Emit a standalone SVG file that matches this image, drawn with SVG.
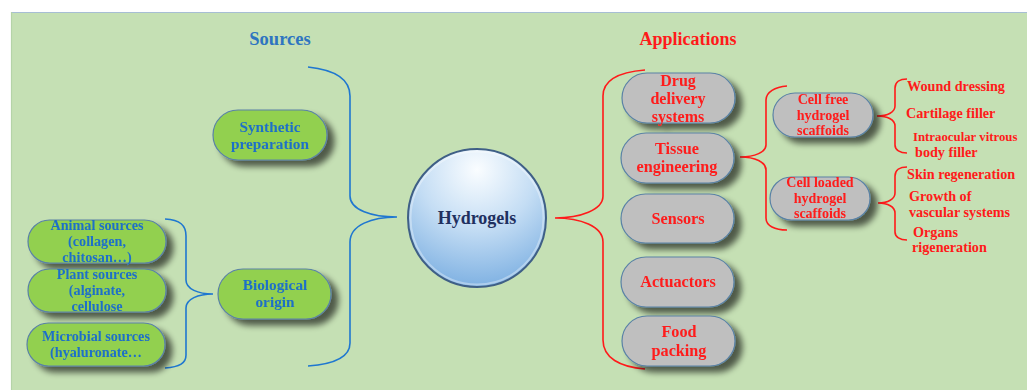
<svg xmlns="http://www.w3.org/2000/svg" width="1027" height="390" viewBox="0 0 1027 390">
<defs>
<filter id="sh" x="-20%" y="-30%" width="150%" height="180%">
<feGaussianBlur in="SourceAlpha" stdDeviation="3"/>
<feOffset dx="7" dy="6" result="b"/>
<feComponentTransfer><feFuncA type="linear" slope="0.6"/></feComponentTransfer>
<feMerge><feMergeNode/><feMergeNode in="SourceGraphic"/></feMerge>
</filter>
<radialGradient id="ball" cx="0.5" cy="0.15" r="0.95">
<stop offset="0" stop-color="#FAFDFF"/>
<stop offset="0.45" stop-color="#C4DDF4"/>
<stop offset="1" stop-color="#6FA7DE"/>
</radialGradient>
<style>
.bg{fill:#C5E0B4;}
.gn{fill:#92D050;stroke:#5A82A6;stroke-width:1.2;}
.gy{fill:#BFBFBF;stroke:#5A82A6;stroke-width:1.2;}
.bb{fill:none;stroke:#1F77D0;stroke-width:1.6;}
.rb{fill:none;stroke:#FF1A1A;stroke-width:1.6;}
text{font-family:"Liberation Serif","Times New Roman",serif;font-weight:bold;}
.bt{fill:#1F6FC8;font-size:15.3px;text-anchor:middle;}
.bs{fill:#1F6FC8;font-size:14.2px;text-anchor:middle;}
.rt{fill:#FF1A1A;font-size:16.2px;text-anchor:middle;}
.rm{fill:#FF1A1A;font-size:16px;text-anchor:middle;}
.rs{fill:#FF1A1A;font-size:14px;text-anchor:middle;}
.rl{fill:#FF1A1A;font-size:14.2px;}
</style>
</defs>
<rect x="0" y="0" width="1027" height="390" fill="#FFFFFF"/>
<rect class="bg" x="11" y="12" width="1020" height="382"/>
<line x1="11" y1="12.5" x2="1027" y2="12.5" stroke="#A7BED4" stroke-width="1.2"/>
<line x1="11.5" y1="12" x2="11.5" y2="390" stroke="#B5D3A8" stroke-width="1.2"/>

<text x="280" y="45" style="fill:#2E75C0;font-size:18.5px;text-anchor:middle;">Sources</text>
<text x="688" y="45" style="fill:#FF1A1A;font-size:18px;text-anchor:middle;">Applications</text>

<g id="connectors">
<path class="bb" d="M308,67 C336,70 350,80 350,96 L350,196 C350,210 372,217 397,217 C372,217 350,225 350,242 L350,343 C350,357 336,364 308,366"/>
<path class="bb" d="M165,219 C180,220 186,225 186,236 L186,280 C186,289 198,294 213,294 C198,294 186,299 186,308 L186,355 C186,363 180,367 165,368"/>
<path class="rb" d="M645,70 C620,72 603,80 603,96 L603,196 C603,210 580,218 555,218 C580,218 603,226 603,242 L603,340 C603,358 620,367 645,369"/>
<path class="rb" d="M787,86 C775,87 766,92 766,100 L766,145 C766,152 755,157 740,157 C755,157 766,162 766,170 L766,218 C766,226 775,230 787,230"/>
<path class="rb" d="M907,79 C900,79 895,82 895,88 L895,106 C895,112 888,116 877,116 C888,116 895,120 895,126 L895,145 C895,150 900,153 907,153"/>
<path class="rb" d="M907,167 C900,167 895,170 895,176 L895,193 C895,199 888,203 878,203 C888,203 895,207 895,213 L895,232 C895,237 900,240 907,240"/>
</g>

<g id="hydrogels">
<circle cx="477" cy="218" r="69" fill="url(#ball)" stroke="#3F5F86" stroke-width="2"/>
<circle cx="477" cy="218" r="66.5" fill="none" stroke="#FFFFFF" stroke-opacity="0.35" stroke-width="2"/>
<text x="477" y="224" style="fill:#1F3060;font-size:18px;text-anchor:middle;">Hydrogels</text>
</g>

<g id="synthetic" filter="url(#sh)">
<rect class="gn" x="213" y="110" width="114" height="50" rx="25"/>
<text class="bt" x="270" y="132">Synthetic</text>
<text class="bt" x="270" y="149">preparation</text>
</g>
<g id="biological" filter="url(#sh)">
<rect class="gn" x="218" y="269" width="113" height="50" rx="25"/>
<text class="bt" x="275" y="290">Biological</text>
<text class="bt" x="275" y="307">origin</text>
</g>
<g id="animal" filter="url(#sh)">
<rect class="gn" x="28" y="220" width="138" height="43" rx="21.5"/>
<text class="bs" x="97" y="230">Animal sources</text>
<text class="bs" x="97" y="246">(collagen,</text>
<text class="bs" x="97" y="262">chitosan…)</text>
</g>
<g id="plant" filter="url(#sh)">
<rect class="gn" x="28" y="269" width="138" height="43" rx="21.5"/>
<text class="bs" x="97" y="279">Plant sources</text>
<text class="bs" x="97" y="295">(alginate,</text>
<text class="bs" x="97" y="311">cellulose</text>
</g>
<g id="microbial" filter="url(#sh)">
<rect class="gn" x="27" y="323" width="138" height="43" rx="21.5"/>
<text class="bs" x="96" y="341">Microbial sources</text>
<text class="bs" x="96" y="357">(hyaluronate…</text>
</g>

<g id="drug" filter="url(#sh)">
<rect class="gy" x="622" y="73" width="113" height="50" rx="25"/>
<text class="rm" x="678" y="86">Drug</text>
<text class="rm" x="678" y="104">delivery</text>
<text class="rm" x="678" y="122">systems</text>
</g>
<g id="tissue" filter="url(#sh)">
<rect class="gy" x="621" y="133" width="113" height="50" rx="25"/>
<text class="rt" x="677" y="154">Tissue</text>
<text class="rt" x="677" y="172">engineering</text>
</g>
<g id="sensors" filter="url(#sh)">
<rect class="gy" x="621" y="194" width="113" height="49" rx="24.5"/>
<text class="rt" x="678" y="224">Sensors</text>
</g>
<g id="actuactors" filter="url(#sh)">
<rect class="gy" x="621" y="257" width="113" height="50" rx="25"/>
<text class="rt" x="678" y="287">Actuactors</text>
</g>
<g id="food" filter="url(#sh)">
<rect class="gy" x="622" y="316" width="113" height="50" rx="25"/>
<text class="rt" x="679" y="337">Food</text>
<text class="rt" x="679" y="356">packing</text>
</g>
<g id="cellfree" filter="url(#sh)">
<rect class="gy" x="773" y="93" width="100" height="44" rx="22"/>
<text class="rs" x="823" y="104">Cell free</text>
<text class="rs" x="823" y="120">hydrogel</text>
<text class="rs" x="823" y="135">scaffoids</text>
</g>
<g id="cellloaded" filter="url(#sh)">
<rect class="gy" x="770" y="177" width="100" height="43" rx="21.5"/>
<text class="rs" x="820" y="187">Cell loaded</text>
<text class="rs" x="820" y="203">hydrogel</text>
<text class="rs" x="820" y="218">scaffoids</text>
</g>

<g id="leaves">
<text class="rl" x="913" y="141" style="font-size:12.8px">Intraocular vitrous</text>
<text class="rl" x="907" y="91">Wound dressing</text>
<text class="rl" x="906" y="118">Cartilage filler</text>
<text class="rl" x="915" y="157">body filler</text>
<text class="rl" x="907" y="179">Skin regeneration</text>
<text class="rl" x="909" y="201">Growth of</text>
<text class="rl" x="909" y="217">vascular systems</text>
<text class="rl" x="913" y="237">Organs</text>
<text class="rl" x="912" y="252">rigeneration</text>
</g>
</svg>
